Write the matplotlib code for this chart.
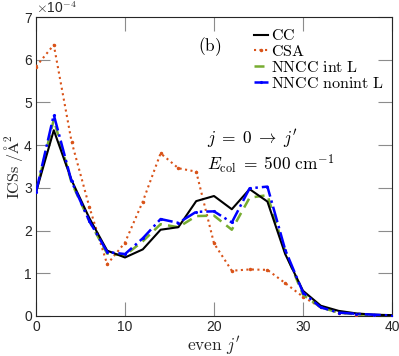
import matplotlib
matplotlib.use("Agg")
import matplotlib.pyplot as plt
import numpy as np

plt.rcParams['mathtext.fontset'] = 'cm'
plt.rcParams['font.family'] = ['Liberation Sans', 'DejaVu Sans']

j_prime = [0, 2, 4, 6, 8, 10, 12, 14, 16, 18, 20, 22, 24, 26, 28, 30, 32, 34, 36, 38, 40]
cc = [2.9, 4.35, 3.18, 2.29, 1.53, 1.37, 1.56, 2.02, 2.08, 2.69, 2.81, 2.50, 2.97, 2.68, 1.45, 0.59, 0.24, 0.12, 0.06, 0.03, 0.02]
csa = [5.84, 6.35, 4.08, 2.55, 1.21, 1.72, 2.68, 3.81, 3.46, 3.38, 1.70, 1.06, 1.09, 1.08, 0.77, 0.45, 0.20, 0.08, 0.03, 0.02, 0.01]
nncc_int = [2.9, 4.6, 3.12, 2.22, 1.46, 1.42, 1.75, 2.15, 2.08, 2.34, 2.35, 2.02, 2.77, 2.83, 1.50, 0.50, 0.20, 0.08, 0.04, 0.02, 0.01]
nncc_nonint = [2.9, 4.71, 3.15, 2.22, 1.50, 1.45, 1.82, 2.27, 2.18, 2.44, 2.45, 2.19, 2.99, 3.03, 1.55, 0.55, 0.20, 0.08, 0.05, 0.03, 0.01]

fig = plt.figure(figsize=(3.99, 3.56), dpi=100)
ax = fig.add_axes([0.0902, 0.1124, 0.8923, 0.8396])

axc = '#262626'
ax.plot(j_prime, np.array(cc), color='black', lw=1.5, label=r'$\mathrm{CC}$', zorder=4)
ax.plot(j_prime, np.array(csa), color='#D95319', lw=1.5, ls=':', marker='.', ms=3,
        label=r'$\mathrm{CSA}$', zorder=3)
ax.plot(j_prime, np.array(nncc_int), color='#77AC30', lw=1.8, ls=(0, (4, 2.5)),
        label=r'$\mathrm{NNCC\ int\ L}$', zorder=3)
ax.plot(j_prime, np.array(nncc_nonint), color='#0000FF', lw=1.8, ls='-.', marker='.', ms=2.5,
        label=r'$\mathrm{NNCC\ nonint\ L}$', zorder=5)

ax.set_xlim(0, 40)
ax.set_ylim(0, 7)
ax.set_xticks([0, 10, 20, 30, 40])
ax.set_yticks(range(0, 8))
ax.tick_params(direction='in', length=10, width=0.8, color='#8c8c8c', labelcolor=axc,
               labelsize=10, top=True, right=True, pad=3)
for s in ax.spines.values():
    s.set_color(axc)
    s.set_linewidth(0.8)

ax.text(0.0, 1.005, r'$\times\mathregular{10}^{-4}$', transform=ax.transAxes,
        fontsize=10, color=axc, ha='left', va='bottom')

ax.set_xlabel(r"$\mathrm{even}\ j'$", fontsize=12.5, color=axc, labelpad=0)
ax.set_ylabel(r'$\mathrm{ICSs}\ /\mathrm{\AA}^2$', fontsize=11.5, color=axc)
ax.yaxis.set_label_coords(-0.03, 0.5)

ax.legend(loc='upper right', bbox_to_anchor=(1.005, 0.995), frameon=False, fontsize=11.5,
          handlelength=0.9, handletextpad=0.2, labelspacing=0.05, borderaxespad=0.2)

ax.text(18.2, 6.2, r'$\mathrm{(b)}$', fontsize=12.5, color='black')
ax.text(19.2, 4.05, r"$j \;=\; 0 \;\rightarrow\; j'$", fontsize=12.5, color='black')
ax.text(19.2, 3.42, r"$E_{\mathrm{col}} \;=\; 500\ \mathrm{cm}^{-1}$", fontsize=12.5, color='black')

fig.savefig('out.png', dpi=100)
